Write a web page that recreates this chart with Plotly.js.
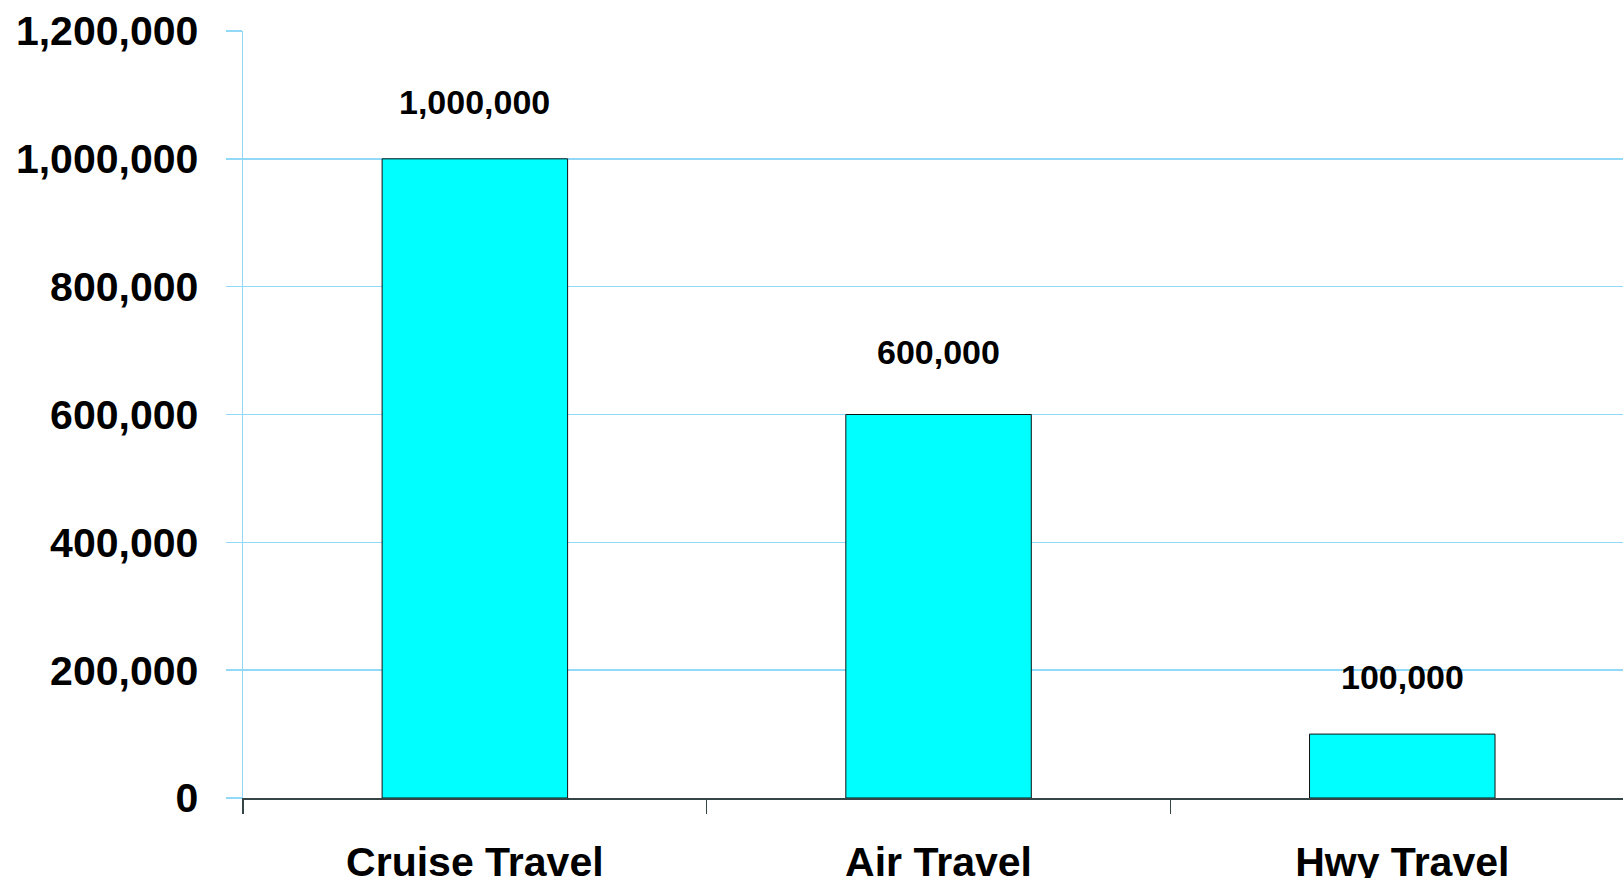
<!DOCTYPE html>
<html>
<head>
<meta charset="utf-8">
<script src="https://cdn.plot.ly/plotly-3.0.1.min.js"></script>
<style>
  html, body { margin: 0; padding: 0; background: #ffffff; }
  #chart { width: 1623px; height: 878px; }
</style>
</head>
<body>
<div id="chart"></div>
<script>
// Travel volume by mode
const categories = ["Cruise Travel", "Air Travel", "Hwy Travel"];
const values = [1000000, 600000, 100000];
const valueLabels = ["1,000,000", "600,000", "100,000"];
const yTickValues = [0, 200000, 400000, 600000, 800000, 1000000, 1200000];
const yTickLabels = ["0", "200,000", "400,000", "600,000", "800,000", "1,000,000", "1,200,000"];

const FONT = "'Liberation Sans', Arial, sans-serif";
const GRID = "#92d9f8";

const bars = {
  type: "bar",
  x: categories,
  y: values,
  width: 0.4,
  marker: { color: "#00ffff", line: { color: "#111111", width: 1 } },
  hoverinfo: "skip"
};

// value labels sit above each bar; the middle one is lifted a little more
const annotations = categories.map((c, i) => ({
  x: c,
  y: values[i],
  xref: "x",
  yref: "y",
  text: valueLabels[i],
  showarrow: false,
  yanchor: "bottom",
  yshift: i === 1 ? 42 : 36,
  font: { family: FONT, size: 34, color: "#000000", weight: "bold" }
}));

const layout = {
  width: 1623,
  height: 878,
  margin: { l: 243, r: 0, t: 31, b: 80, pad: 0 },
  paper_bgcolor: "#ffffff",
  plot_bgcolor: "#ffffff",
  showlegend: false,
  bargap: 0.6,
  xaxis: {
    type: "category",
    range: [-0.5, 2.476],
    showgrid: false,
    showline: true,
    linecolor: "#354545",
    linewidth: 1.5,
    ticks: "outside",
    tickson: "boundaries",
    ticklen: 14,
    tickwidth: 1.5,
    tickcolor: "#354545",
    ticklabelstandoff: 27,
    tickfont: { family: FONT, size: 41, color: "#000000", weight: "bold" },
    zeroline: false,
    fixedrange: true
  },
  yaxis: {
    range: [0, 1200000],
    tickmode: "array",
    tickvals: yTickValues,
    ticktext: yTickLabels,
    showgrid: true,
    gridcolor: GRID,
    gridwidth: 1.5,
    showline: true,
    linecolor: GRID,
    linewidth: 1.5,
    ticks: "outside",
    ticklen: 16,
    tickwidth: 1.5,
    tickcolor: GRID,
    ticklabelstandoff: 19,
    tickfont: { family: FONT, size: 41, color: "#000000", weight: "bold" },
    zeroline: false,
    fixedrange: true
  },
  annotations: annotations
};

Plotly.newPlot("chart", [bars], layout, { displayModeBar: false, staticPlot: true });
</script>
</body>
</html>
